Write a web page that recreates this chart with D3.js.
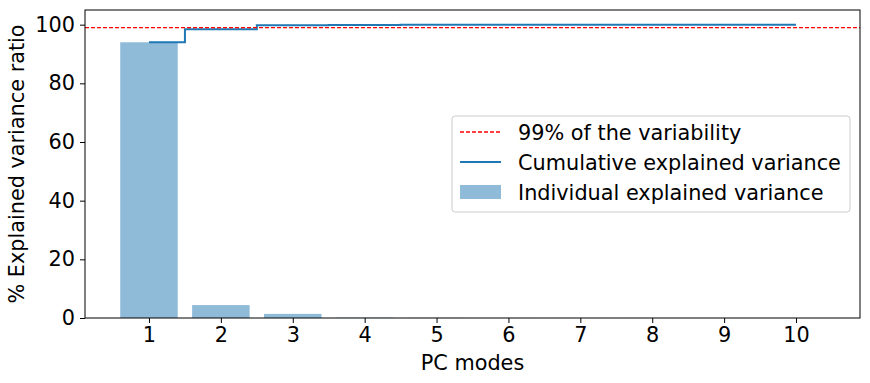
<!DOCTYPE html>
<html lang="en">
<head>
    <meta charset="UTF-8">
    <title>PCA explained variance</title>
    <script src="https://d3js.org/d3.v7.min.js"></script>
    <style>
        body { margin: 0; background: #fff; }
        text { font-family: "DejaVu Sans", sans-serif; fill: #000; }
    </style>
</head>
<body>
    <script>
        // PC modes and explained variance (%)
        const modes = [1, 2, 3, 4, 5, 6, 7, 8, 9, 10];
        const individual = [94.0, 4.4, 1.4, 0.1, 0.05, 0.03, 0.01, 0.01, 0.0, 0.0];
        const threshold = 99;
        const yTicks = [0, 20, 40, 60, 80, 100];
        const legendLabels = ["99% of the variability", "Cumulative explained variance", "Individual explained variance"];

        const cumulative = d3.cumsum(individual);

        const width = 870, height = 383;
        const margin = {left: 85, right: 10, top: 10, bottom: 65};
        const fontSize = "20.8px";

        const svg = d3.select("body").append("svg")
            .attr("width", width)
            .attr("height", height);

        const x = d3.scaleLinear()
            .domain([0.11, 10.89])
            .range([margin.left, width - margin.right]);

        const y = d3.scaleLinear()
            .domain([0, 105])
            .range([height - margin.bottom, margin.top]);

        // Bars
        svg.append("g")
            .selectAll("rect")
            .data(modes)
            .enter().append("rect")
            .attr("x", (d) => x(d - 0.4))
            .attr("width", (d) => x(d + 0.4) - x(d - 0.4))
            .attr("y", (d, i) => y(individual[i]))
            .attr("height", (d, i) => y(0) - y(individual[i]))
            .attr("fill", "#1f77b4")
            .attr("fill-opacity", 0.5);

        // Cumulative step line (mid)
        const stepLine = d3.line()
            .x((d) => x(d[0]))
            .y((d) => y(d[1]))
            .curve(d3.curveStep);

        svg.append("path")
            .datum(modes.map((m, i) => [m, cumulative[i]]))
            .attr("d", stepLine)
            .attr("fill", "none")
            .attr("stroke", "#1f77b4")
            .attr("stroke-width", 2);

        // Threshold
        svg.append("line")
            .attr("x1", margin.left)
            .attr("x2", width - margin.right)
            .attr("y1", y(threshold))
            .attr("y2", y(threshold))
            .attr("stroke", "red")
            .attr("stroke-width", 1.3)
            .attr("stroke-dasharray", "4,2");

        // Axes
        const xAxis = svg.append("g")
            .attr("transform", `translate(0,${height - margin.bottom})`)
            .call(d3.axisBottom(x).tickValues(modes).tickSize(5).tickPadding(4));

        const yAxis = svg.append("g")
            .attr("transform", `translate(${margin.left},0)`)
            .call(d3.axisLeft(y).tickValues(yTicks).tickSize(5).tickPadding(5));

        [xAxis, yAxis].forEach((g) => {
            g.selectAll("text").style("font-size", fontSize).attr("fill", "#000");
            g.selectAll("line").attr("stroke", "#000");
            g.select(".domain").remove();
        });

        // Frame
        svg.append("rect")
            .attr("x", margin.left)
            .attr("y", margin.top)
            .attr("width", width - margin.left - margin.right)
            .attr("height", height - margin.top - margin.bottom)
            .attr("fill", "none")
            .attr("stroke", "#000")
            .attr("stroke-width", 1);

        // Axis labels
        svg.append("text")
            .attr("x", x(5.5))
            .attr("y", 370)
            .attr("text-anchor", "middle")
            .style("font-size", fontSize)
            .text("PC modes");

        svg.append("text")
            .attr("transform", `translate(24,${y(52.5)}) rotate(-90)`)
            .attr("text-anchor", "middle")
            .style("font-size", fontSize)
            .text("% Explained variance ratio");

        // Legend
        const legend = svg.append("g").attr("transform", "translate(452,116)");
        legend.append("rect")
            .attr("width", 398)
            .attr("height", 96)
            .attr("rx", 3)
            .attr("fill", "#fff")
            .attr("fill-opacity", 0.8)
            .attr("stroke", "#ccc");

        const rowY = [16, 46, 76];
        legend.append("line")
            .attr("x1", 8).attr("x2", 49)
            .attr("y1", rowY[0]).attr("y2", rowY[0])
            .attr("stroke", "red").attr("stroke-width", 1.3).attr("stroke-dasharray", "4,2");
        legend.append("line")
            .attr("x1", 8).attr("x2", 49)
            .attr("y1", rowY[1]).attr("y2", rowY[1])
            .attr("stroke", "#1f77b4").attr("stroke-width", 2);
        legend.append("rect")
            .attr("x", 8).attr("y", rowY[2] - 7)
            .attr("width", 41).attr("height", 14)
            .attr("fill", "#1f77b4").attr("fill-opacity", 0.5);

        legend.selectAll("text.lab")
            .data(legendLabels)
            .enter().append("text")
            .attr("class", "lab")
            .attr("x", 66)
            .attr("y", (d, i) => rowY[i] + 7.5)
            .style("font-size", fontSize)
            .text((d) => d);
    </script>
</body>
</html>
